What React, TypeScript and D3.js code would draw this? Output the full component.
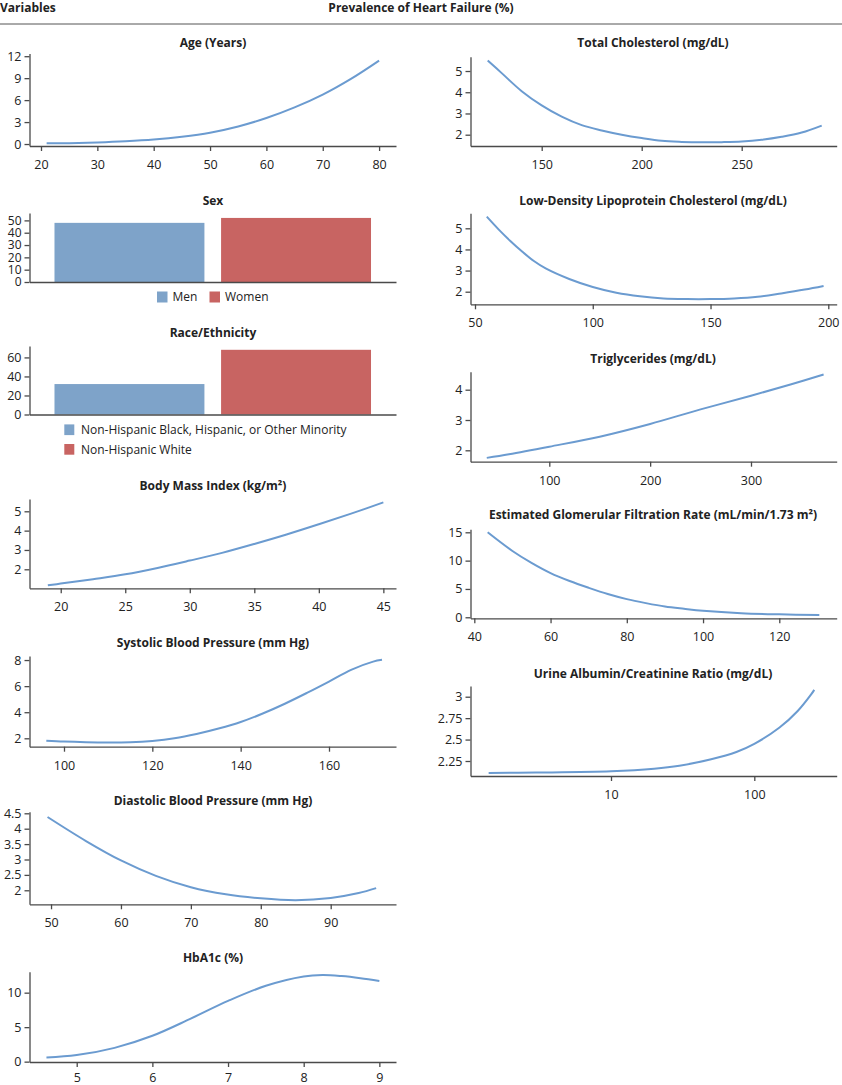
import React, { useEffect, useRef } from "react";
import * as d3 from "d3";

// ---- data ----
type Pt = [number, number];

const ageCurve: Pt[] = [[21, 0.1], [25, 0.12], [30, 0.22], [35, 0.38], [40, 0.62], [45, 1.0], [50, 1.55], [55, 2.4], [60, 3.55], [65, 5.0], [70, 6.75], [75, 8.9], [80, 11.4]];
const ageXTicks = [20, 30, 40, 50, 60, 70, 80];
const ageYTicks = [0, 3, 6, 9, 12];

const sexCategories = ["Men", "Women"];
const sexValues = [48, 52];
const sexYTicks = [0, 10, 20, 30, 40, 50];

const raceCategories = ["Non-Hispanic Black, Hispanic, or Other Minority", "Non-Hispanic White"];
const raceValues = [32, 68];
const raceYTicks = [0, 20, 40, 60];

const bmiCurve: Pt[] = [[19, 1.17], [20, 1.26], [22.5, 1.49], [25, 1.74], [27.5, 2.07], [30, 2.45], [32.5, 2.85], [35, 3.31], [37.5, 3.8], [40, 4.33], [42.5, 4.88], [45, 5.46]];
const bmiXTicks = [20, 25, 30, 35, 40, 45];
const bmiYTicks = [2, 3, 4, 5];

const sbpCurve: Pt[] = [[96, 1.82], [100, 1.75], [105, 1.7], [110, 1.68], [115, 1.7], [120, 1.8], [125, 2.0], [130, 2.33], [135, 2.75], [140, 3.25], [145, 3.9], [150, 4.65], [155, 5.48], [160, 6.35], [165, 7.25], [170, 7.88], [172, 8.02]];
const sbpXTicks = [100, 120, 140, 160];
const sbpYTicks = [2, 4, 6, 8];

const dbpCurve: Pt[] = [[49.5, 4.38], [55, 3.6], [60, 2.97], [65, 2.47], [70, 2.1], [75, 1.87], [80, 1.74], [85, 1.68], [90, 1.75], [94, 1.91], [96.5, 2.07]];
const dbpXTicks = [50, 60, 70, 80, 90];
const dbpYTicks = [2, 2.5, 3, 3.5, 4, 4.5];

const hbaCurve: Pt[] = [[4.6, 0.6], [5, 0.95], [5.5, 2.0], [6, 3.75], [6.5, 6.2], [7, 8.8], [7.5, 11.0], [8, 12.35], [8.25, 12.55], [8.5, 12.4], [8.75, 12.1], [9, 11.7]];
const hbaXTicks = [5, 6, 7, 8, 9];
const hbaYTicks = [0, 5, 10];

const tcCurve: Pt[] = [[123, 5.5], [130, 4.9], [140, 4.05], [150, 3.38], [160, 2.85], [170, 2.45], [180, 2.2], [190, 2.0], [200, 1.84], [210, 1.71], [220, 1.66], [230, 1.64], [240, 1.65], [250, 1.68], [260, 1.76], [270, 1.9], [280, 2.1], [290, 2.43]];
const tcXTicks = [150, 200, 250];
const tcYTicks = [2, 3, 4, 5];

const ldlCurve: Pt[] = [[55, 5.55], [60, 4.95], [65, 4.4], [70, 3.9], [75, 3.45], [80, 3.1], [90, 2.6], [100, 2.22], [110, 1.95], [120, 1.78], [130, 1.68], [140, 1.65], [150, 1.65], [160, 1.68], [170, 1.76], [180, 1.92], [190, 2.1], [198, 2.27]];
const ldlXTicks = [50, 100, 150, 200];
const ldlYTicks = [2, 3, 4, 5];

const tgCurve: Pt[] = [[38, 1.75], [60, 1.87], [100, 2.12], [150, 2.45], [200, 2.87], [250, 3.35], [300, 3.8], [340, 4.18], [372, 4.5]];
const tgXTicks = [100, 200, 300];
const tgYTicks = [2, 3, 4];

const egfrCurve: Pt[] = [[43.5, 15], [50, 11.7], [55, 9.6], [60, 7.8], [65, 6.4], [70, 5.2], [75, 4.1], [80, 3.2], [85, 2.5], [90, 1.9], [95, 1.5], [100, 1.15], [110, 0.72], [120, 0.52], [130.5, 0.4]];
const egfrXTicks = [40, 60, 80, 100, 120];
const egfrYTicks = [0, 5, 10, 15];

const uacrCurve: Pt[] = [[1.4, 2.11], [3, 2.115], [10, 2.13], [20, 2.16], [30, 2.195], [50, 2.27], [75, 2.355], [100, 2.45], [150, 2.64], [200, 2.83], [250, 3.03], [262, 3.08]];
const uacrXTicks = [10, 100];
const uacrYTicks = [2.25, 2.5, 2.75, 3];

// ---- layout ----
const W = 842;
const H = 1085;
const LINE = "#6b9bd0";
const BLUE = "#7ea3c9";
const RED = "#c86462";
const AXIS = "#4a4a4a";
const INK = "#222";
const FONT = "'Open Sans', 'Noto Sans', sans-serif";

const L = { x0: 29.5, x1: 396, cx: 213 };
const R = { x0: 470.5, x1: 836.7, cx: 653 };

interface LinePanel {
  title: string;
  curve: Pt[];
  col: typeof L;
  xDomain: [number, number];
  yDomain: [number, number];
  xTicks: number[];
  yTicks: number[];
  top: number;
  bottom: number;
  titleY: number;
  log?: boolean;
  xPad?: number;
}

const linePanels: LinePanel[] = [
  { title: "Age (Years)", curve: ageCurve, col: L, xDomain: [17.96, 83.0], yDomain: [-0.27, 12.37], xTicks: ageXTicks, yTicks: ageYTicks, top: 53.5, bottom: 146, titleY: 43 },
  { title: "Body Mass Index (kg/m²)", curve: bmiCurve, col: L, xDomain: [17.58, 45.98], yDomain: [1.017, 5.636], xTicks: bmiXTicks, yTicks: bmiYTicks, top: 499, bottom: 588.3, titleY: 486 },
  { title: "Systolic Blood Pressure (mm Hg)", curve: sbpCurve, col: L, xDomain: [92.19, 175.17], yDomain: [1.356, 8.31], xTicks: sbpXTicks, yTicks: sbpYTicks, top: 656, bottom: 746.7, titleY: 643 },
  { title: "Diastolic Blood Pressure (mm Hg)", curve: dbpCurve, col: L, xDomain: [46.92, 99.34], yDomain: [1.545, 4.552], xTicks: dbpXTicks, yTicks: dbpYTicks, top: 811.7, bottom: 904.3, titleY: 800.7 },
  { title: "HbA1c (%)", curve: hbaCurve, col: L, xDomain: [4.376, 9.22], yDomain: [-0.05, 13.04], xTicks: hbaXTicks, yTicks: hbaYTicks, top: 971.7, bottom: 1062, titleY: 958, xPad: 6.5 },
  { title: "Total Cholesterol (mg/dL)", curve: tcCurve, col: R, xDomain: [114.4, 297.5], yDomain: [1.468, 5.674], xTicks: tcXTicks, yTicks: tcYTicks, top: 56.7, bottom: 146, titleY: 43 },
  { title: "Low-Density Lipoprotein Cholesterol (mg/dL)", curve: ldlCurve, col: R, xDomain: [48.09, 203.57], yDomain: [1.404, 5.71], xTicks: ldlXTicks, yTicks: ldlYTicks, top: 213.3, bottom: 304.3, titleY: 200.7 },
  { title: "Triglycerides (mg/dL)", curve: tgCurve, col: R, xDomain: [21.87, 384.98], yDomain: [1.624, 4.594], xTicks: tgXTicks, yTicks: tgYTicks, top: 371.7, bottom: 461.7, titleY: 358.3 },
  { title: "Estimated Glomerular Filtration Rate (mL/min/1.73 m²)", curve: egfrCurve, col: R, xDomain: [39.0, 135.06], yDomain: [-0.18, 15.53], xTicks: egfrXTicks, yTicks: egfrYTicks, top: 529.3, bottom: 618.3, titleY: 515 },
  { title: "Urine Albumin/Creatinine Ratio (mg/dL)", curve: uacrCurve, col: R, xDomain: [1.046, 375.8], yDomain: [2.075, 3.125], xTicks: uacrXTicks, yTicks: uacrYTicks, top: 686, bottom: 776, titleY: 673.3, log: true },
];

interface BarPanel {
  title: string;
  categories: string[];
  values: number[];
  yTicks: number[];
  yMax: number;
  top: number;
  bottom: number;
  titleY: number;
  tickFont: number;
}

const barPanels: BarPanel[] = [
  { title: "Sex", categories: sexCategories, values: sexValues, yTicks: sexYTicks, yMax: 56, top: 213, bottom: 282, titleY: 201, tickFont: 12 },
  { title: "Race/Ethnicity", categories: raceCategories, values: raceValues, yTicks: raceYTicks, yMax: 72, top: 346, bottom: 414.5, titleY: 333, tickFont: 12.5 },
];

function styleAxis(g: d3.Selection<SVGGElement, unknown, null, undefined>, size = 12.5) {
  g.attr("font-family", FONT).attr("font-size", size);
  g.selectAll(".domain").attr("stroke", AXIS).attr("stroke-width", 1.3);
  g.selectAll(".tick line").attr("stroke", AXIS).attr("stroke-width", 1.3);
  g.selectAll(".tick text").attr("fill", INK);
}

export default function App() {
  const svgRef = useRef<SVGSVGElement | null>(null);

  useEffect(() => {
    const svg = d3.select(svgRef.current);
    svg.selectAll("*").remove();

    // header
    svg.append("text").attr("x", 0).attr("y", 7.5).attr("dy", "0.35em")
      .attr("font-family", FONT).attr("font-weight", 700).attr("font-size", 12).attr("fill", INK)
      .text("Variables");
    svg.append("text").attr("x", 421).attr("y", 7.5).attr("dy", "0.35em").attr("text-anchor", "middle")
      .attr("font-family", FONT).attr("font-weight", 700).attr("font-size", 12).attr("fill", INK)
      .text("Prevalence of Heart Failure (%)");
    svg.append("line").attr("x1", 0).attr("x2", W).attr("y1", 24).attr("y2", 24)
      .attr("stroke", "#555").attr("stroke-width", 1);

    const title = (x: number, y: number, t: string) =>
      svg.append("text").attr("x", x).attr("y", y).attr("dy", "0.35em").attr("text-anchor", "middle")
        .attr("font-family", FONT).attr("font-weight", 700).attr("font-size", 12).attr("fill", INK)
        .text(t);

    // line panels
    linePanels.forEach((p) => {
      const x = (p.log ? d3.scaleLog() : d3.scaleLinear()).domain(p.xDomain).range([p.col.x0, p.col.x1]);
      const y = d3.scaleLinear().domain(p.yDomain).range([p.bottom, p.top]);

      title(p.col.cx, p.titleY, p.title);

      const gx = svg.append("g").attr("transform", `translate(0,${p.bottom})`)
        .call(d3.axisBottom(x as any).tickValues(p.xTicks).tickSize(5).tickSizeOuter(0).tickPadding(p.xPad ?? 9)
          .tickFormat((d: any) => String(d)));
      styleAxis(gx as any);

      const gy = svg.append("g").attr("transform", `translate(${p.col.x0},0)`)
        .call(d3.axisLeft(y).tickValues(p.yTicks).tickSize(5).tickSizeOuter(0).tickPadding(3)
          .tickFormat((d: any) => String(d)));
      styleAxis(gy as any);

      const line = d3.line<Pt>()
        .x((d) => x(d[0]))
        .y((d) => y(d[1]))
        .curve(d3.curveCatmullRom.alpha(0.5));

      svg.append("path").datum(p.curve).attr("d", line).attr("fill", "none")
        .attr("stroke", LINE).attr("stroke-width", 2);
    });

    // bar panels
    const colors = [BLUE, RED];
    barPanels.forEach((p, i) => {
      const x = d3.scaleBand<string>().domain(p.categories).range([L.x0, L.x1])
        .paddingInner(0.1).paddingOuter(0.15);
      const y = d3.scaleLinear().domain([0, p.yMax]).range([p.bottom, p.top]);

      title(L.cx, p.titleY, p.title);

      svg.append("g").selectAll("rect").data(p.values).join("rect")
        .attr("x", (_, j) => x(p.categories[j])!)
        .attr("width", x.bandwidth())
        .attr("y", (d) => y(d))
        .attr("height", (d) => y(0) - y(d))
        .attr("fill", (_, j) => colors[j]);

      const gx = svg.append("g").attr("transform", `translate(0,${p.bottom})`)
        .call(d3.axisBottom(x).tickValues([]).tickSizeOuter(0));
      styleAxis(gx as any);

      const gy = svg.append("g").attr("transform", `translate(${L.x0},0)`)
        .call(d3.axisLeft(y).tickValues(p.yTicks).tickSize(5).tickSizeOuter(0).tickPadding(3)
          .tickFormat((d: any) => String(d)));
      styleAxis(gy as any, p.tickFont);

      // legends
      const lg = svg.append("g").attr("font-family", FONT).attr("font-size", 12).attr("fill", INK);
      if (i === 0) {
        const items = [{ x: 157, label: p.categories[0] }, { x: 209.5, label: p.categories[1] }];
        items.forEach((it, j) => {
          lg.append("rect").attr("x", it.x).attr("y", 291.5).attr("width", 10.5).attr("height", 11).attr("fill", colors[j]);
          lg.append("text").attr("x", it.x + 15.5).attr("y", 297).attr("dy", "0.35em").text(it.label);
        });
      } else {
        const rows = [429.7, 449.3];
        rows.forEach((ry, j) => {
          lg.append("rect").attr("x", 64.3).attr("y", ry - 5.3).attr("width", 10).attr("height", 10.7).attr("fill", colors[j]);
          lg.append("text").attr("x", 81).attr("y", ry).attr("dy", "0.35em").text(p.categories[j]);
        });
      }
    });
  }, []);

  return (
    <svg
      ref={svgRef}
      width={W}
      height={H}
      style={{ position: "absolute", left: 0, top: 0, background: "#fff" }}
    />
  );
}
